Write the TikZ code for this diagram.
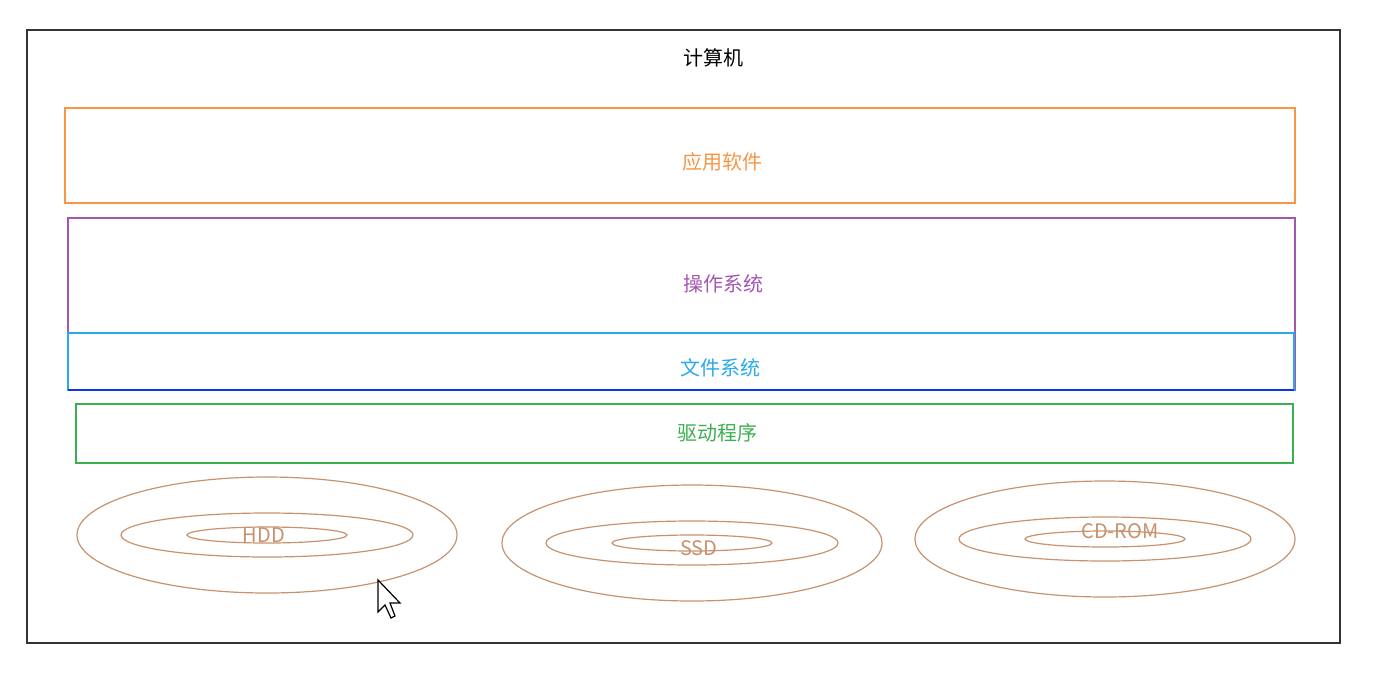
\documentclass[tikz,border=0pt]{standalone}
\usepackage{fontspec}
\setmainfont{Noto Sans CJK SC}
\begin{document}
\begin{tikzpicture}[x=0.5pt,y=-0.5pt,
 lbl/.style={font=\fontsize{10}{12}\selectfont,inner sep=0pt},
 ring/.style={draw=disk,line width=0.6pt}]
\definecolor{app}{RGB}{247,150,70}
\definecolor{os}{RGB}{165,85,180}
\definecolor{fs}{RGB}{40,170,235}
\definecolor{drv}{RGB}{60,175,80}
\definecolor{disk}{RGB}{200,146,110}
\useasboundingbox (0,0) rectangle (1389,682);
\fill[white] (0,0) rectangle (1389,682);
\draw[black!80,line width=0.7pt] (27,30) rectangle (1340,643);
\node[lbl,text=black] (title) at (713,58) {计算机};
\draw[app,line width=0.7pt] (65,108) rectangle (1295,203);
\node[lbl,text=app] (appt) at (722,162) {应用软件};
\draw[os,line width=0.7pt] (68,218) rectangle (1295,390);
\node[lbl,text=os] (ost) at (723,284) {操作系统};
\draw[fs,line width=0.7pt] (68,333) rectangle (1294,390);
\draw[blue!70!fs,line width=0.9pt] (68,390) -- (1294,390);
\node[lbl,text=fs] (fst) at (720,368) {文件系统};
\draw[drv,line width=0.7pt] (76,404) rectangle (1293,463);
\node[lbl,text=drv] (drvt) at (717,433) {驱动程序};
\foreach \cx/\cy/\t/\tx/\ty in {267/535/HDD/264/535, 692/543/SSD/699/548, 1105/539/CD-ROM/1120/531}{
  \draw[ring] (\cx,\cy) ellipse [x radius=95pt, y radius=29pt];
  \draw[ring] (\cx,\cy) ellipse [x radius=73pt, y radius=11pt];
  \draw[ring] (\cx,\cy) ellipse [x radius=40pt, y radius=4pt];
  \node[lbl,text=disk] at (\tx,\ty) {\t};
}
\draw[black,fill=white,line width=0.6pt] (378,580) -- (378,612) -- (385,605) -- (391,618) -- (395,616) -- (390,603) -- (400,603) -- cycle;
\end{tikzpicture}
\end{document}
